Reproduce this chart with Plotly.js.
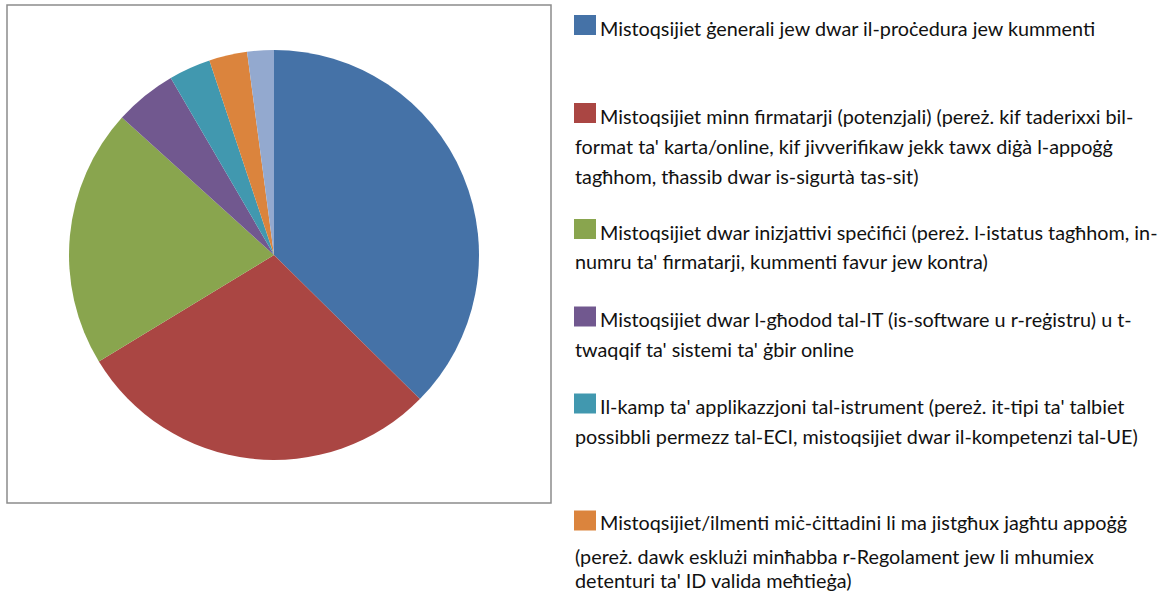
<!DOCTYPE html>
<html>
<head>
<meta charset="utf-8">
<script src="https://cdn.plot.ly/plotly-3.0.1.min.js"></script>
<style>html,body{margin:0;padding:0;background:#fff;}#chart{width:1168px;height:594px;}</style>
</head>
<body>
<div id="chart"></div>
<script>
// Categories (legend text, split into the lines shown in the reference)
const categories = [
  "Mistoqsijiet ġenerali jew dwar il-proċedura jew kummenti",
  "Mistoqsijiet minn firmatarji (potenzjali)",
  "Mistoqsijiet dwar inizjattivi speċifiċi",
  "Mistoqsijiet dwar l-għodod tal-IT",
  "Il-kamp ta' applikazzjoni tal-istrument",
  "Mistoqsijiet/ilmenti miċ-ċittadini li ma jistgħux jagħtu appoġġ",
  "Oħrajn"
];
const legendLines = [
  ["Mistoqsijiet ġenerali jew dwar il-proċedura jew kummenti"],
  ["Mistoqsijiet minn firmatarji (potenzjali) (pereż. kif taderixxi bil-",
   "format ta' karta/online, kif jivverifikaw jekk tawx diġà l-appoġġ",
   "tagħhom, tħassib dwar is-sigurtà tas-sit)"],
  ["Mistoqsijiet dwar inizjattivi speċifiċi (pereż. l-istatus tagħhom, in-",
   "numru ta' firmatarji, kummenti favur jew kontra)"],
  ["Mistoqsijiet dwar l-għodod tal-IT (is-software u r-reġistru) u t-",
   "twaqqif ta' sistemi ta' ġbir online"],
  ["Il-kamp ta' applikazzjoni tal-istrument (pereż. it-tipi ta' talbiet",
   "possibbli permezz tal-ECI, mistoqsijiet dwar il-kompetenzi tal-UE)"],
  ["Mistoqsijiet/ilmenti miċ-ċittadini li ma jistgħux jagħtu appoġġ",
   "(pereż. dawk esklużi minħabba r-Regolament jew li mhumiex",
   "detenturi ta' ID valida meħtieġa)"]
];
// Shares (%)
const shares = [37.4, 28.9, 20.4, 4.9, 3.3, 3.0, 2.1];
const colors = ["#4572A7", "#AA4643", "#89A54E", "#71588F", "#4198AF", "#DB843D", "#93A9CF"];

const W = 1168, H = 594;
// vertical centres (px) of each legend line and of each legend swatch
const lineY = [[28], [116, 146, 176], [232, 261], [319, 349], [406, 436], [522, 556, 580]];
const swatchY = [25, 113, 229, 316.5, 403.5, 520.5];

const px = x => x / W;
const py = y => 1 - y / H;

const annotations = [];
const shapes = [{
  type: "rect", xref: "paper", yref: "paper",
  x0: px(7), x1: px(551), y0: py(503), y1: py(5),
  line: {color: "#8c8c8c", width: 1.5}, fillcolor: "rgba(0,0,0,0)"
}];
legendLines.forEach((lines, i) => {
  lines.forEach((t, j) => {
    annotations.push({
      xref: "paper", yref: "paper",
      x: px(j === 0 ? 598 : 573), y: py(lineY[i][j]),
      xanchor: "left", yanchor: "middle", showarrow: false,
      text: t, font: {family: "Lato, 'Open Sans', sans-serif", size: 19.8, color: "#111"}
    });
  });
  const yc = swatchY[i];
  shapes.push({
    type: "rect", xref: "paper", yref: "paper",
    x0: px(574), x1: px(596), y0: py(yc + 10), y1: py(yc - 10),
    line: {width: 0}, fillcolor: colors[i]
  });
});

const trace = {
  type: "pie",
  labels: categories,
  values: shares,
  sort: false,
  direction: "clockwise",
  rotation: 0,
  marker: {colors: colors, line: {width: 0}},
  textinfo: "none",
  hoverinfo: "label+percent",
  showlegend: false,
  domain: {x: [px(69), px(479)], y: [py(460), py(50)]}
};

Plotly.newPlot("chart", [trace], {
  width: W, height: H,
  margin: {l: 0, r: 0, t: 0, b: 0},
  paper_bgcolor: "#fff",
  showlegend: false,
  annotations: annotations,
  shapes: shapes
}, {displayModeBar: false, staticPlot: true});
</script>
</body>
</html>
